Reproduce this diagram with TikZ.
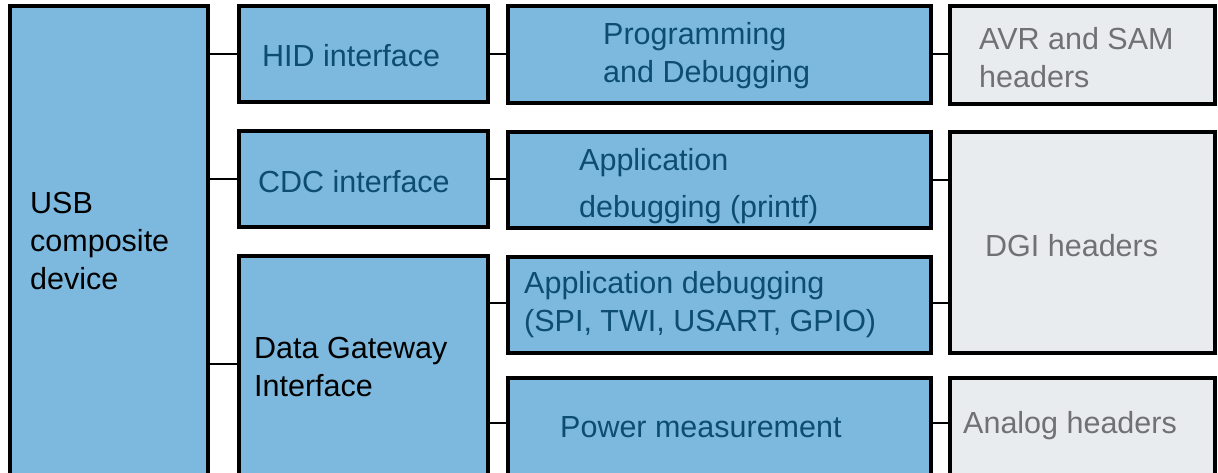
\documentclass[tikz,border=0pt]{standalone}
\usepackage{fontspec}
\setmainfont{Liberation Sans}
\usepackage{xcolor}
\usepackage{tikz}
\usetikzlibrary{calc, positioning}

\definecolor{boxblue}{HTML}{7DB9DE}
\definecolor{boxgray}{HTML}{E9ECEF}
\definecolor{txtblue}{HTML}{0D4D6F}
\definecolor{txtgray}{HTML}{707172}

\begin{document}
\begin{tikzpicture}[x=1pt, y=-1pt,
    bluebox/.style={draw=black, line width=3.5pt, fill=boxblue, inner sep=0pt},
    graybox/.style={draw=black, line width=3.5pt, fill=boxgray, inner sep=0pt},
    link/.style={black, line width=2pt},
    lbl/.style={anchor=west, inner sep=0pt, align=left,
        font=\fontsize{30.5}{38}\selectfont},
    bluetxt/.style={lbl, text=txtblue},
    graytxt/.style={lbl, text=txtgray}]
    \useasboundingbox (0,0) rectangle (1218,473);
    \clip (0,0) rectangle (1218,473);

    % 1. Cột trái: USB composite device
    \node[bluebox, minimum width=198pt, minimum height=474pt] (usb) at (109,243) {};
    \node[lbl] (usbtxt) at (30,241) {USB\\composite\\device};

    % 2. Các interface
    \node[bluebox, minimum width=249pt, minimum height=96pt] (hid) at (363.5,54) {};
    \node[bluebox, minimum width=249pt, minimum height=96pt] (cdc) at (363.5,179) {};
    \node[bluebox, minimum width=249pt, minimum height=224pt] (dgi) at (363.5,368) {};
    \node[bluetxt] (hidtxt) at (262,56) {HID interface};
    \node[bluetxt] (cdctxt) at (258,182) {CDC interface};
    \node[lbl] (dgitxt) at (254,367) {Data Gateway\\Interface};

    % 3. Chức năng
    \node[bluebox, minimum width=423pt, minimum height=97pt] (prog) at (719.5,54.5) {};
    \node[bluebox, minimum width=423pt, minimum height=96pt] (appdbg) at (719.5,180) {};
    \node[bluebox, minimum width=423pt, minimum height=96pt] (spidbg) at (719.5,305) {};
    \node[bluebox, minimum width=423pt, minimum height=102pt] (power) at (719.5,429) {};
    \node[bluetxt] (progtxt) at (603,56) {Programming\\and Debugging};
    \node[bluetxt, font=\fontsize{30.5}{47}\selectfont] (appdbgtxt) at (579,186) {Application\\debugging (printf)};
    \node[bluetxt] (spidbgtxt) at (524,305) {Application debugging\\(SPI, TWI, USART, GPIO)};
    \node[bluetxt] (powertxt) at (560,427) {Power measurement};

    % 4. Headers
    \node[graybox, minimum width=265pt, minimum height=98pt] (avrhdr) at (1082.5,55) {};
    \node[graybox, minimum width=265pt, minimum height=221pt] (dgihdr) at (1082.5,242.5) {};
    \node[graybox, minimum width=265pt, minimum height=102pt] (anahdr) at (1082.5,429) {};
    \node[graytxt] (avrtxt) at (979,58) {AVR and SAM\\headers};
    \node[graytxt] (dgihdrtxt) at (985,246) {DGI headers};
    \node[graytxt] (anatxt) at (963,426) {Analog headers};

    % 5. Đường nối
    \draw[link] (usb.east |- hid.west) -- (hid.west);
    \draw[link] (usb.east |- cdc.west) -- (cdc.west);
    \draw[link] ([yshift=4pt]usb.east |- dgi.west) -- ([yshift=4pt]dgi.west);
    \draw[link] (hid.east) -- (prog.west |- hid.east);
    \draw[link] (cdc.east) -- (appdbg.west |- cdc.east);
    \draw[link] ([yshift=2pt]dgi.east |- spidbg.west) -- ([yshift=2pt]spidbg.west);
    \draw[link] ([yshift=6pt]dgi.east |- power.west) -- ([yshift=6pt]power.west);
    \draw[link] (prog.east) -- (avrhdr.west |- prog.east);
    \draw[link] (appdbg.east) -- (dgihdr.west |- appdbg.east);
    \draw[link] ([yshift=2pt]spidbg.east) -- ([yshift=2pt]dgihdr.west |- spidbg.east);
    \draw[link] ([yshift=6pt]power.east) -- ([yshift=6pt]anahdr.west);
\end{tikzpicture}
\end{document}
